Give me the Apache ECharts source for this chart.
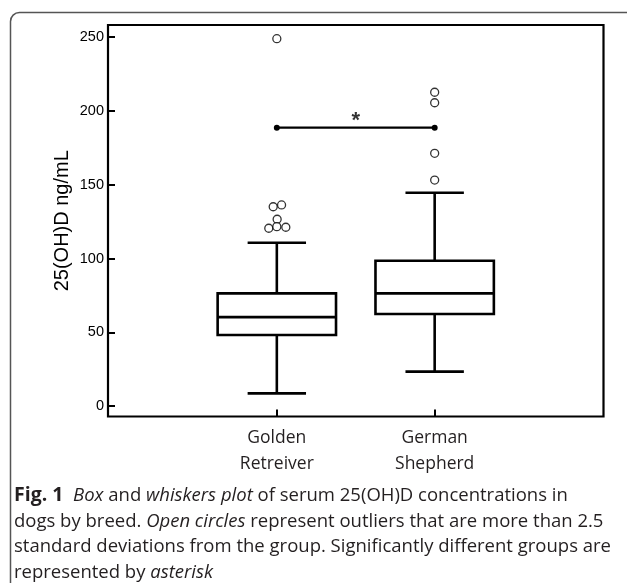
<!DOCTYPE html>
<html>
<head>
<meta charset="utf-8">
<script src="https://cdn.jsdelivr.net/npm/echarts@6/dist/echarts.min.js"></script>
<style>
html,body{margin:0;padding:0;background:#fff;}
#chart{width:627px;height:583px;}
</style>
</head>
<body>
<div id="chart"></div>
<script>
// ---- data ----
const categories = ['Golden\nRetreiver', 'German\nShepherd'];
const categoryX = [1, 2];
// [min, Q1, median, Q3, max]
const boxStats = [
  [8.6, 48.1, 60.3, 76.4, 110.7],
  [23.3, 62.4, 76.4, 98.5, 144.6]
];
const goldenOutliers = [[1.0, 249], [0.977, 135.1], [1.03, 136.3], [1.002, 126.6], [0.949, 120.5], [1.0, 121.6], [1.057, 121.2]];
const germanOutliers = [[2, 212.7], [2, 205.6], [2, 171.3], [2, 153.2]];
const sigBar = [[1, 188.7], [2, 188.7]];
const sigMark = [[1.5, 188.7]];
const yTicks = [0, 50, 100, 150, 200, 250];

const boxData = boxStats.map((s, i) => [categoryX[i]].concat(s));

const chart = echarts.init(document.getElementById('chart'));
const BOX_HALF = 0.375, CAP_HALF = 0.185;
const LINE = '#000';
const CAP_FONT = 'Open Sans';
const CAP_SIZE = 18.5;

chart.setOption({
  animation: false,
  backgroundColor: '#fff',
  title: {
    left: 14, top: 483, padding: 0,
    text: '{b|Fig. 1}  {i|Box} and {i|whiskers plot} of serum 25(OH)D concentrations in\ndogs by breed. {i|Open circles} represent outliers that are more than 2.5\nstandard deviations from the group. Significantly different groups are\nrepresented by {i|asterisk}',
    textStyle: {
      fontFamily: CAP_FONT, fontSize: CAP_SIZE, fontWeight: 'normal', color: '#231f20', lineHeight: 25.5,
      rich: {
        b: { fontFamily: CAP_FONT, fontSize: 19.5, fontWeight: 'bold', color: '#231f20', lineHeight: 25.5 },
        i: { fontFamily: CAP_FONT, fontSize: CAP_SIZE, fontStyle: 'italic', color: '#231f20', lineHeight: 25.5 }
      }
    }
  },
  graphic: [{
    type: 'rect', left: 8, top: 10, silent: true,
    shape: { width: 640, height: 580, r: 9 },
    style: { fill: 'none', stroke: '#555', lineWidth: 1.5 }
  }],
  grid: { left: 108, top: 25, right: 23.5, bottom: 166.5, show: true, borderColor: LINE, borderWidth: 2.2, backgroundColor: 'transparent' },
  xAxis: {
    type: 'value', min: -0.0696, max: 3.0696,
    splitLine: { show: false },
    axisLine: { show: false, onZero: false },
    axisTick: { show: true, inside: true, length: 7, customValues: categoryX, lineStyle: { color: LINE, width: 2 } },
    axisLabel: {
      customValues: categoryX, margin: 9,
      formatter: v => categories[categoryX.indexOf(v)] || '',
      fontFamily: 'Open Sans', fontSize: 17.5, color: '#231f20', lineHeight: 26
    }
  },
  yAxis: {
    type: 'value', min: -7.1, max: 258.3,
    name: '25(OH)D ng/mL', nameLocation: 'middle', nameGap: 36, nameRotate: 90, nameMoveOverlap: false,
    nameTextStyle: { fontFamily: 'Liberation Sans', fontSize: 20, color: '#000' },
    splitLine: { show: false },
    axisLine: { show: false, onZero: false },
    axisTick: { show: true, inside: true, length: 7, customValues: yTicks, lineStyle: { color: LINE, width: 2 } },
    axisLabel: { customValues: yTicks, margin: 4, fontFamily: 'Liberation Sans', fontSize: 14.5, color: '#000' }
  },
  series: [
    {
      type: 'custom',
      data: boxData,
      renderItem: function (params, api) {
        const x = api.value(0);
        const mn = api.coord([x, api.value(1)]);
        const q1 = api.coord([x, api.value(2)]);
        const md = api.coord([x, api.value(3)]);
        const q3 = api.coord([x, api.value(4)]);
        const mx = api.coord([x, api.value(5)]);
        const bh = api.size([BOX_HALF, 0])[0];
        const ch = api.size([CAP_HALF, 0])[0];
        const st = { stroke: LINE, lineWidth: 2.6, fill: 'none' };
        const cx = mn[0];
        return {
          type: 'group',
          children: [
            { type: 'line', shape: { x1: cx, y1: mn[1], x2: cx, y2: q1[1] }, style: st },
            { type: 'line', shape: { x1: cx, y1: q3[1], x2: cx, y2: mx[1] }, style: st },
            { type: 'line', shape: { x1: cx - ch, y1: mn[1], x2: cx + ch, y2: mn[1] }, style: st },
            { type: 'line', shape: { x1: cx - ch, y1: mx[1], x2: cx + ch, y2: mx[1] }, style: st },
            { type: 'rect', shape: { x: cx - bh, y: q3[1], width: 2 * bh, height: q1[1] - q3[1] }, style: st },
            { type: 'line', shape: { x1: cx - bh, y1: md[1], x2: cx + bh, y2: md[1] }, style: st }
          ]
        };
      }
    },
    {
      type: 'scatter', data: goldenOutliers.concat(germanOutliers),
      symbol: 'circle', symbolSize: 8,
      itemStyle: { color: '#fff', borderColor: LINE, borderWidth: 1.3 }
    },
    {
      type: 'line', data: sigBar, symbol: 'circle', symbolSize: 6, showSymbol: true,
      lineStyle: { color: LINE, width: 2.4 }, itemStyle: { color: LINE }
    },
    {
      type: 'scatter', data: sigMark, symbolSize: 0,
      label: { show: true, formatter: '*', position: 'top', distance: -4, fontFamily: 'Liberation Sans', fontWeight: 'bold', fontSize: 22, color: '#000' }
    }
  ]
});
</script>
</body>
</html>
